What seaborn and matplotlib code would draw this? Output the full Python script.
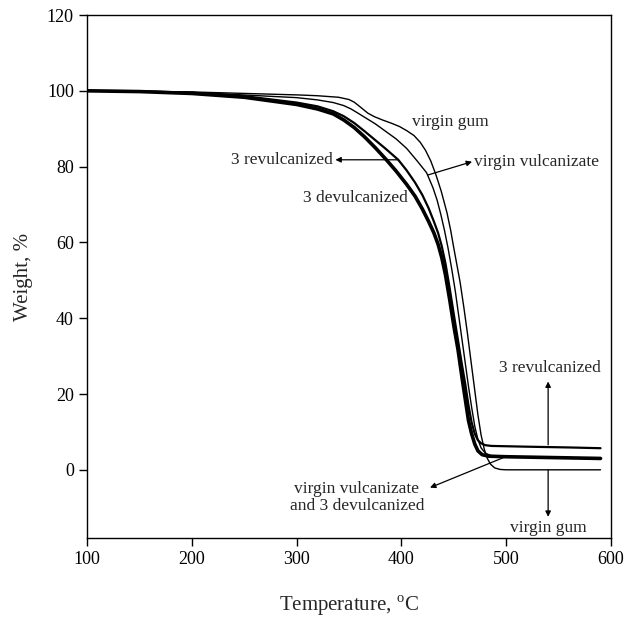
import matplotlib
matplotlib.use("Agg")
import matplotlib.pyplot as plt
import seaborn as sns

# TGA curves (temperature in C, weight in %)

gum_t = [100, 200, 303, 320, 340, 350, 355, 360, 364, 368, 374, 382, 390, 398, 405, 412, 418, 423, 428, 433, 438,
         443.5, 447, 450, 453, 456, 459.5, 463, 466, 469.5, 473, 476, 479, 482, 485, 489, 494, 500, 590]
gum_w = [100, 99.7, 98.9, 98.7, 98.3, 97.7, 97.0, 95.9, 95.0, 94.1, 93.2, 92.3, 91.5, 90.6, 89.5, 88.2, 86.4, 84.3, 81.5, 77.8, 73.5,
         67.8, 63.2, 58.5, 54.0, 49.5, 43.0, 36.0, 29.5, 22.0, 14.5, 9.2, 5.5, 3.0, 1.5, 0.5, 0.1, 0.0, 0.0]

vulc_t = [100, 200, 300, 320, 335, 345, 352, 358, 365, 375, 385, 395, 405, 415, 424, 430, 434, 437.5, 441, 444.5, 448,
          451.5, 455, 458, 461, 464, 467, 470, 473, 476, 480, 486, 500, 530, 560, 590]
vulc_w = [100, 99.6, 98.2, 97.6, 96.9, 96.1, 95.2, 94.2, 93.0, 91.3, 89.3, 87.3, 84.8, 81.5, 78.4, 74.5, 71.2, 67.5, 63.3, 58.5, 53.0,
          47.0, 40.0, 34.0, 28.0, 22.0, 16.5, 11.5, 8.0, 5.8, 4.4, 3.7, 3.4, 3.25, 3.1, 2.9]

revulc_t = [100, 150, 200, 250, 300, 320, 335, 345, 355, 365, 375, 385, 397, 405, 413, 420, 426, 431, 435, 438.5, 442,
            446, 450, 453.5, 457, 461, 464, 467, 470, 473, 476, 480, 486, 520, 560, 590]
revulc_w = [100, 99.9, 99.5, 98.6, 96.9, 95.9, 94.6, 93.3, 91.5, 89.3, 87.0, 84.7, 81.8, 79.0, 75.8, 72.5, 69.0, 65.5, 62.5, 59.0, 54.5,
            48.0, 41.0, 35.0, 29.0, 22.5, 17.0, 12.5, 9.5, 7.8, 7.0, 6.5, 6.3, 6.1, 5.9, 5.7]

devulc_t = [100, 150, 200, 250, 300, 320, 335, 345, 355, 365, 375, 385, 395, 405, 413, 420, 426, 431, 435, 438.5, 442,
            446, 450, 454, 458, 461, 464, 467, 470, 473, 477, 483, 500, 530, 560, 590]
devulc_w = [100, 99.8, 99.3, 98.3, 96.4, 95.2, 93.9, 92.3, 90.3, 87.8, 85.0, 82.0, 78.8, 75.3, 72.2, 68.8, 65.5, 62.5, 59.5, 56.0, 51.5,
            45.0, 38.0, 31.7, 24.0, 18.5, 13.0, 9.5, 6.8, 5.0, 4.0, 3.6, 3.45, 3.3, 3.15, 3.0]

sns.set_style("ticks")
plt.rcParams['font.family'] = ['Liberation Serif', 'DejaVu Serif']
plt.rcParams['mathtext.fontset'] = 'custom'
plt.rcParams['mathtext.rm'] = 'Liberation Serif'

fig = plt.figure(figsize=(6.27, 6.18), dpi=100)
ax = fig.add_axes([0.1388, 0.1294, 0.8357, 0.8463])

sns.lineplot(x=gum_t, y=gum_w, color='black', linewidth=1.0, ax=ax)
sns.lineplot(x=vulc_t, y=vulc_w, color='black', linewidth=1.0, ax=ax)
sns.lineplot(x=revulc_t, y=revulc_w, color='black', linewidth=1.6, ax=ax)
sns.lineplot(x=devulc_t, y=devulc_w, color='black', linewidth=2.6, ax=ax)

ax.set_xlim(100, 600)
ax.set_ylim(-18, 120)
ax.set_xticks([100, 200, 300, 400, 500, 600])
ax.set_yticks([0, 20, 40, 60, 80, 100, 120])
ax.tick_params(direction='out', length=6, width=1, labelsize=13, colors='black')
for s in ax.spines.values():
    s.set_visible(True)
    s.set_linewidth(1.0)
    s.set_color('black')

ax.set_xlabel('Temperature, $^{\\rm o}$C', fontsize=15, labelpad=18)
ax.set_ylabel('Weight, %', fontsize=15, labelpad=10)

arrow = dict(arrowstyle='-|>', color='black', lw=0.9, mutation_scale=8, shrinkA=0, shrinkB=0)
fs = 12.5

ax.text(447, 91.8, 'virgin gum', fontsize=fs, ha='center', va='center')
ax.text(355.7, 71.8, '3 devulcanized', fontsize=fs, ha='center', va='center')

ax.annotate('', xy=(337, 81.8), xytext=(396.8, 81.8), arrowprops=arrow)
ax.text(335, 81.8, '3 revulcanized', fontsize=fs, ha='right', va='center')

ax.annotate('', xy=(467.4, 81.3), xytext=(425.4, 77.8), arrowprops=arrow)
ax.text(469, 81.3, 'virgin vulcanizate', fontsize=fs, ha='left', va='center')

ax.annotate('', xy=(540, 23.3), xytext=(540, 6.6), arrowprops=arrow)
ax.text(541.8, 24.8, '3 revulcanized', fontsize=fs, ha='center', va='bottom')

ax.annotate('', xy=(540, -12.4), xytext=(540, 0), arrowprops=arrow)
ax.text(540, -13.2, 'virgin gum', fontsize=fs, ha='center', va='top')

ax.annotate('', xy=(427.3, -4.7), xytext=(498.9, 3.4), arrowprops=arrow)
ax.text(357.6, -7.3, 'virgin vulcanizate\nand 3 devulcanized', fontsize=fs,
        ha='center', va='center', linespacing=1.1)

plt.savefig('out.png', dpi=100)
